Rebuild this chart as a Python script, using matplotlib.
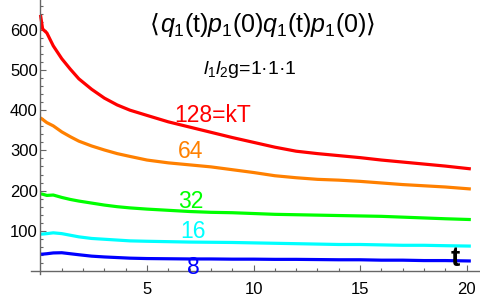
import matplotlib
matplotlib.use("Agg")
import matplotlib.pyplot as plt

plt.rcParams['font.family'] = ['Liberation Sans', 'DejaVu Sans']
plt.rcParams['mathtext.fontset'] = 'custom'
plt.rcParams['mathtext.rm'] = 'Liberation Sans'
plt.rcParams['mathtext.it'] = 'Liberation Sans:italic'

# time grid shared by all curves
t = [0, 0.1, 0.3, 0.6, 1, 1.4, 1.8, 2.4, 3, 3.6, 4.2, 5, 6, 7, 8, 9, 10,
     11, 12, 13, 14, 15, 16, 17, 18, 19, 20.2]

kT128 = [637, 602, 592, 560, 528, 502, 478, 452, 430, 413, 400, 387, 371, 358, 345, 332, 320,
         308, 298, 292, 287, 282, 276, 271, 266, 261, 254]
kT64 = [381, 377, 369, 361, 346, 334, 323, 311, 301, 292, 285, 276, 269, 264, 259, 252, 245,
        237, 232, 228, 226, 223, 219, 215, 212, 209, 204]
kT32 = [192, 191, 188, 189, 183, 178, 174, 169, 164, 160, 157, 154, 151, 148, 146, 145, 143,
        141, 140, 139, 138, 137, 136, 134, 132, 130, 128]
kT16 = [92, 92, 93, 95, 93, 89, 85, 81, 79, 77, 75, 74, 73, 72, 71.5, 71, 70,
        69, 68, 67, 66, 66, 65, 64, 64, 63, 62]
kT8 = [42, 42, 43, 45, 45.5, 43, 40.5, 37, 35, 33.5, 32, 31, 30.5, 30, 30, 29.5, 29.5,
       29, 29, 28.5, 28, 28, 27, 27, 26, 26, 25]

x_major = [5, 10, 15, 20]
y_major = [100, 200, 300, 400, 500, 600]
x_minor = [i for i in range(1, 21) if i % 5]
y_minor = [i for i in range(20, 680, 20) if i % 100]

series = [
    (kT128, '#ff0000', '128=kT', 174, 116),
    (kT64, '#ff8000', '64', 178, 152),
    (kT32, '#00ff00', '32', 178, 201),
    (kT16, '#00ffff', '16', 180, 231),
    (kT8, '#0000ff', '8', 187, 268),
]

fig = plt.figure(figsize=(4.8, 3.04), dpi=100)
ax = fig.add_axes([0, 0, 1, 1])
ax.set_xlim(-1.90, 20.63)
ax.set_ylim(-82, 674)

for vals, col, lab, px, py in series:
    ax.plot(t, vals, color=col, lw=2.3, solid_capstyle='butt')
    ax.text(px / 480, 1 - py / 304, lab, color=col, fontsize=16.5,
            ha='left', va='center', transform=ax.transAxes)

# Mathematica-like axes through the origin
for s in ['top', 'right']:
    ax.spines[s].set_visible(False)
ax.spines['left'].set_position(('data', 0))
ax.spines['bottom'].set_position(('data', 0))
ax.spines['left'].set_bounds(-8, 674)
ax.spines['bottom'].set_bounds(-0.45, 20.63)
for s in ['left', 'bottom']:
    ax.spines[s].set_color('#666666')
    ax.spines[s].set_linewidth(1.0)

ax.set_xticks(x_major)
ax.set_yticks(y_major)
ax.set_xticks(x_minor, minor=True)
ax.set_yticks(y_minor, minor=True)
ax.tick_params(which='both', direction='in', color='#666666', width=0.8)
ax.tick_params(which='major', length=4.5, labelsize=12)
ax.tick_params(which='minor', length=2.5)
ax.tick_params(axis='x', which='major', pad=8)
ax.tick_params(axis='y', which='major', pad=2)

title = ax.text(263 / 480, 1 - 25 / 304, r'$q_1$(t)$p_1$(0)$q_1$(t)$p_1$(0)',
                fontsize=18, ha='center', va='center', transform=ax.transAxes)
ax.annotate('⟨', xy=(0, 0.5), xycoords=title, ha='right', va='center',
            fontsize=18, family='DejaVu Sans')
ax.annotate('⟩', xy=(1, 0.5), xycoords=title, ha='left', va='center',
            fontsize=18, family='DejaVu Sans')
ax.text(250 / 480, 1 - 70 / 304, r'$l_1l_2$g=1·1·1',
        fontsize=14, ha='center', va='center', transform=ax.transAxes)
ax.text(455 / 480, 1 - 259 / 304, 't', fontsize=20, fontweight='bold',
        ha='center', va='center', transform=ax.transAxes)

fig.savefig('out.png', dpi=100)
